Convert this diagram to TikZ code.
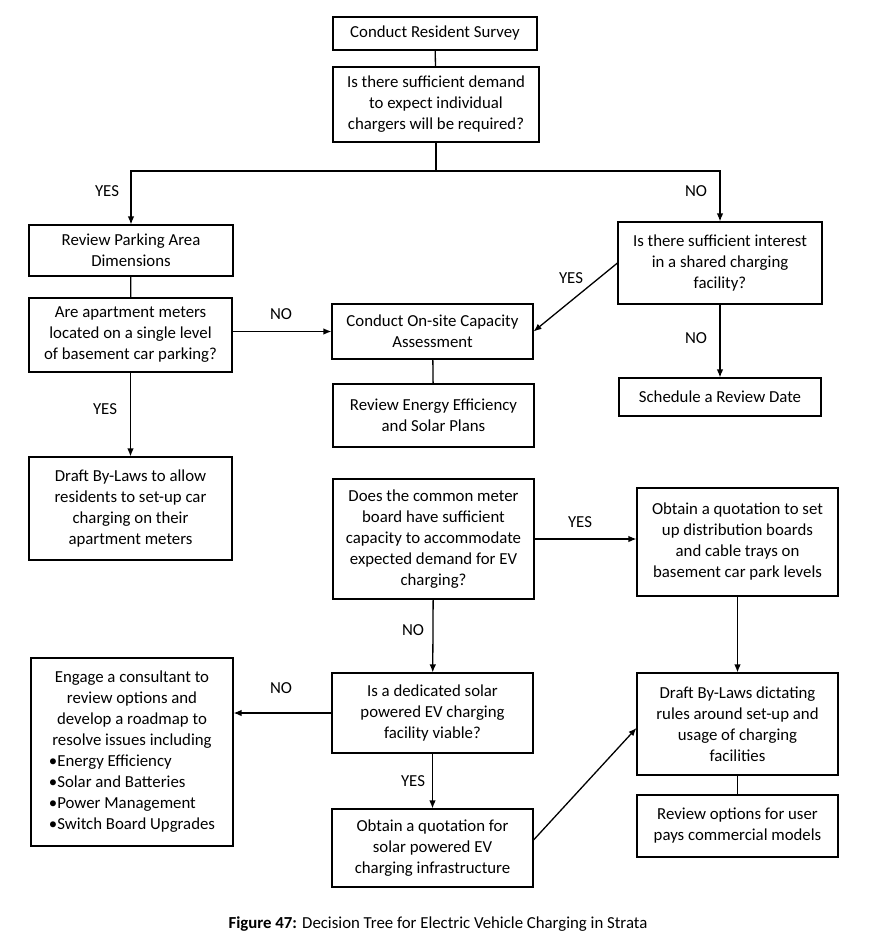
\documentclass[tikz,border=0pt]{standalone}
\usepackage{fontspec}
\setmainfont{Carlito}
\usetikzlibrary{arrows.meta}
\begin{document}
\begin{tikzpicture}[x=1pt,y=-1pt,
  every node/.style={font=\fontsize{16.8}{21}\selectfont},
  box/.style={draw, line width=1.1pt, align=center, inner sep=0pt},
  conn/.style={line width=1.3pt},
  arr/.style={line width=1.3pt, -{Latex[length=8pt,width=6.5pt]}},
  lbl/.style={inner sep=1pt}]
\useasboundingbox (0,0) rectangle (878,946);
\node[box, minimum width=204, minimum height=33] (b1) at (435,33.5) {Conduct Resident Survey};
\node[box, minimum width=206, minimum height=75] (b2) at (436,104.5) {Is there sufficient demand\\to expect individual\\chargers will be required?};
\node[box, minimum width=204, minimum height=51] (b3) at (131,250.5) {Review Parking Area\\Dimensions};
\node[box, minimum width=204, minimum height=82] (b4) at (720,263) {Is there sufficient interest\\in a shared charging\\facility?};
\node[box, minimum width=203, minimum height=74] (b5) at (130.5,335) {Are apartment meters\\located on a single level\\of basement car parking?};
\node[box, minimum width=201, minimum height=55] (b6) at (432.5,331.5) {Conduct On-site Capacity\\Assessment};
\node[box, minimum width=202, minimum height=38] (b7) at (720,397) {Schedule a Review Date};
\node[box, minimum width=201, minimum height=63] (b8) at (433.5,415.5) {Review Energy Efficiency\\and Solar Plans};
\node[box, minimum width=203, minimum height=103] (b9) at (130.5,508.5) {Draft By-Laws to allow\\residents to set-up car\\charging on their\\apartment meters};
\node[box, minimum width=201, minimum height=120] (b10) at (433.5,539) {Does the common meter\\board have sufficient\\capacity to accommodate\\expected demand for EV\\charging?};
\node[box, minimum width=201, minimum height=108] (b11) at (737.5,542) {Obtain a quotation to set\\up distribution boards\\and cable trays on\\basement car park levels};
\node[box, minimum width=201, minimum height=80] (b12) at (432.5,713) {Is a dedicated solar\\powered EV charging\\facility viable?};
\node[box, minimum width=202, minimum height=188] (b13) at (132,752) {\begin{tabular}{@{}l@{}}
\multicolumn{1}{@{}c@{}}{Engage a consultant to}\\
\multicolumn{1}{@{}c@{}}{review options and}\\
\multicolumn{1}{@{}c@{}}{develop a roadmap to}\\
\multicolumn{1}{@{}c@{}}{resolve issues including}\\
•Energy Efficiency\\
•Solar and Batteries\\
•Power Management\\
•Switch Board Upgrades
\end{tabular}};
\node[box, minimum width=201, minimum height=78] (b14) at (432.5,848) {Obtain a quotation for\\solar powered EV\\charging infrastructure};
\node[box, minimum width=201, minimum height=102] (b15) at (737.5,724) {Draft By-Laws dictating\\rules around set-up and\\usage of charging\\facilities};
\node[box, minimum width=201, minimum height=62] (b16) at (737.5,826) {Review options for user\\pays commercial models};

\coordinate (split) at (436,171);
\draw[conn] (b1) -- (b2);
\draw[conn] (b2.south) -- (split);
\draw[arr] (split) -| (b3.north);
\draw[arr] (split) -| (b4.north);
\draw[conn] (b3) -- (b5);
\draw[arr] (b5.east |- b6.west) -- (b6.west);
\draw[arr] (b4.west) -- (b6.east);
\draw[arr] (b4) -- (b7);
\draw[conn] (b6) -- (b8);
\draw[arr] (b5) -- (b9);
\draw[arr] (b10.east) -- (b11.west |- b10.east);
\draw[arr] (b10) -- (b12);
\draw[arr] (b12.west) -- (b13.east |- b12.west);
\draw[arr] (b12) -- (b14);
\draw[arr] ([yshift=8pt]b14.east) -- ([yshift=-4pt]b15.west);
\draw[arr] (b11) -- (b15);
\draw[conn] (b15) -- (b16);

\node[lbl] (l1) at (107,191) {YES};
\node[lbl] (l2) at (696,191) {NO};
\node[lbl] (l3) at (571,278) {YES};
\node[lbl] (l4) at (281,314) {NO};
\node[lbl] (l5) at (696,338) {NO};
\node[lbl] (l6) at (105,409) {YES};
\node[lbl] (l7) at (580,522) {YES};
\node[lbl] (l8) at (413,630) {NO};
\node[lbl] (l9) at (281,688) {NO};
\node[lbl] (l10) at (413,781) {YES};
\node (cap) at (438,924) {\textbf{Figure 47:} Decision Tree for Electric Vehicle Charging in Strata};
\end{tikzpicture}
\end{document}
